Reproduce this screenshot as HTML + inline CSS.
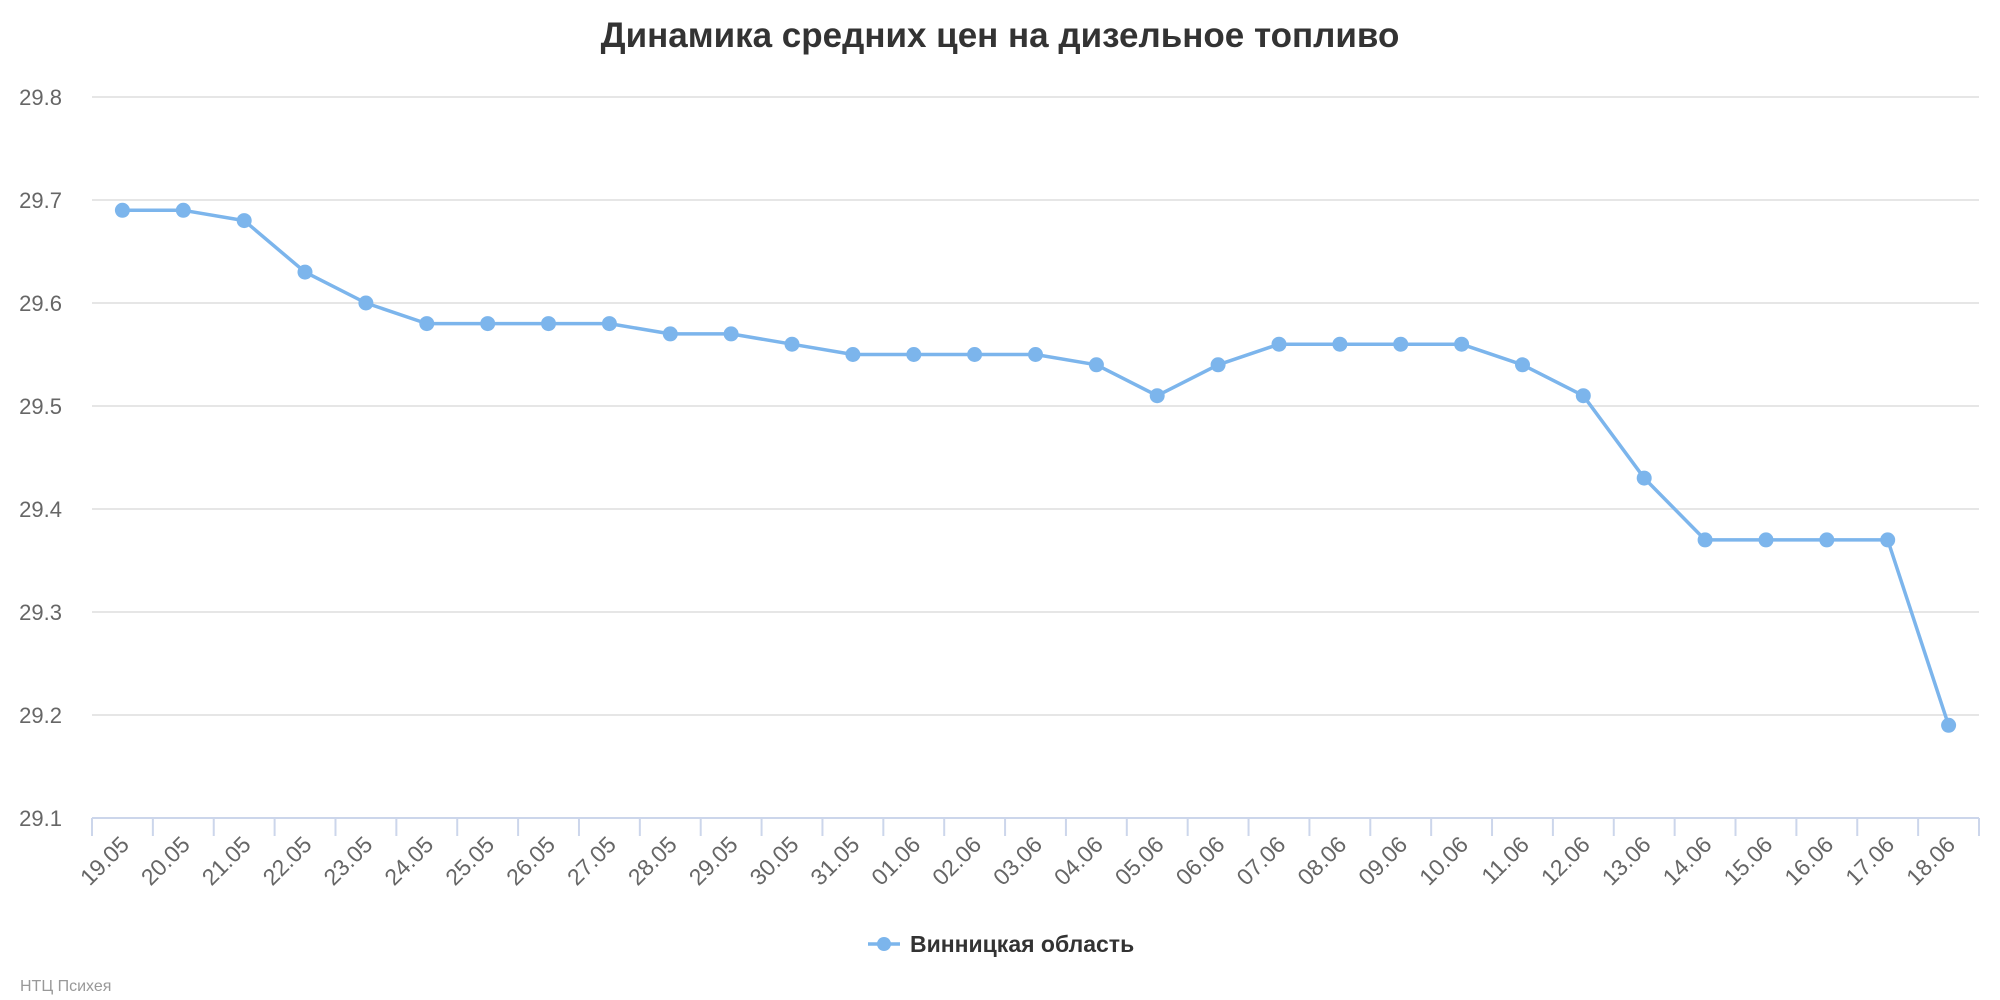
<!DOCTYPE html>
<html><head><meta charset="utf-8"><style>
body{margin:0;background:#fff;}
svg{display:block;font-family:"Liberation Sans","DejaVu Sans",sans-serif;}
</style></head><body>
<svg id="c" width="2000" height="1000" viewBox="0 0 2000 1000" xmlns="http://www.w3.org/2000/svg">
<rect width="2000" height="1000" fill="#fff"/>
<text x="1000" y="47" text-anchor="middle" font-size="35" font-weight="bold" fill="#333">Динамика средних цен на дизельное топливо</text>
<g id="grid"></g>
<g id="xl"></g>
<g id="ser"></g>
<g>
<line x1="868" y1="944" x2="900" y2="944" stroke="#7cb5ec" stroke-width="3.5"/>
<circle cx="884" cy="944" r="7" fill="#7cb5ec"/>
<text x="910" y="952" font-size="23" font-weight="bold" fill="#333">Винницкая область</text>
</g>
<text x="20" y="991" font-size="16" fill="#999">НТЦ Психея</text>
</svg>
<script>
var ns="http://www.w3.org/2000/svg";
function el(p,t,a,txt){var e=document.createElementNS(ns,t);for(var k in a)e.setAttribute(k,a[k]);if(txt)e.textContent=txt;document.getElementById(p).appendChild(e);}
var T0=97,step=103,L=92,R=1979;
function Y(v){return T0+(29.8-v)/0.1*step;}
for(var i=0;i<=7;i++){var v=29.8-i*0.1,y=T0+i*step;
 if(i<7)el("grid","line",{x1:L,x2:R,y1:y,y2:y,stroke:"#e6e6e6","stroke-width":2});
 el("grid","text",{x:62,y:y+8,"text-anchor":"end","font-size":22,fill:"#666"},v.toFixed(1));}
el("grid","line",{x1:L,x2:R,y1:818,y2:818,stroke:"#ccd6eb","stroke-width":2});
var d=[29.69,29.69,29.68,29.63,29.60,29.58,29.58,29.58,29.58,29.57,29.57,29.56,29.55,29.55,29.55,29.55,29.54,29.51,29.54,29.56,29.56,29.56,29.56,29.54,29.51,29.43,29.37,29.37,29.37,29.37,29.19];
var labs=[];for(var i=19;i<=31;i++)labs.push(i+".05");for(var i=1;i<=18;i++)labs.push((i<10?"0":"")+i+".06");
var w=(R-L)/31,pts=[];
for(var i=0;i<=31;i++){var x=L+i*w;el("grid","line",{x1:x,x2:x,y1:818,y2:836,stroke:"#ccd6eb","stroke-width":2});}
for(var i=0;i<31;i++){var x=L+w*(i+0.5),y=Y(d[i]);pts.push(x.toFixed(1)+","+y.toFixed(1));
 var lx=x+8,ly=846;
 el("xl","text",{x:lx,y:ly,"text-anchor":"end","font-size":23,fill:"#666",transform:"rotate(-45 "+lx+" "+ly+")"},labs[i]);}
el("ser","polyline",{points:pts.join(" "),fill:"none",stroke:"#7cb5ec","stroke-width":3.5,"stroke-linejoin":"round"});
for(var i=0;i<31;i++){var p=pts[i].split(",");el("ser","circle",{cx:p[0],cy:p[1],r:7.5,fill:"#7cb5ec"});}
</script>
</body></html>
